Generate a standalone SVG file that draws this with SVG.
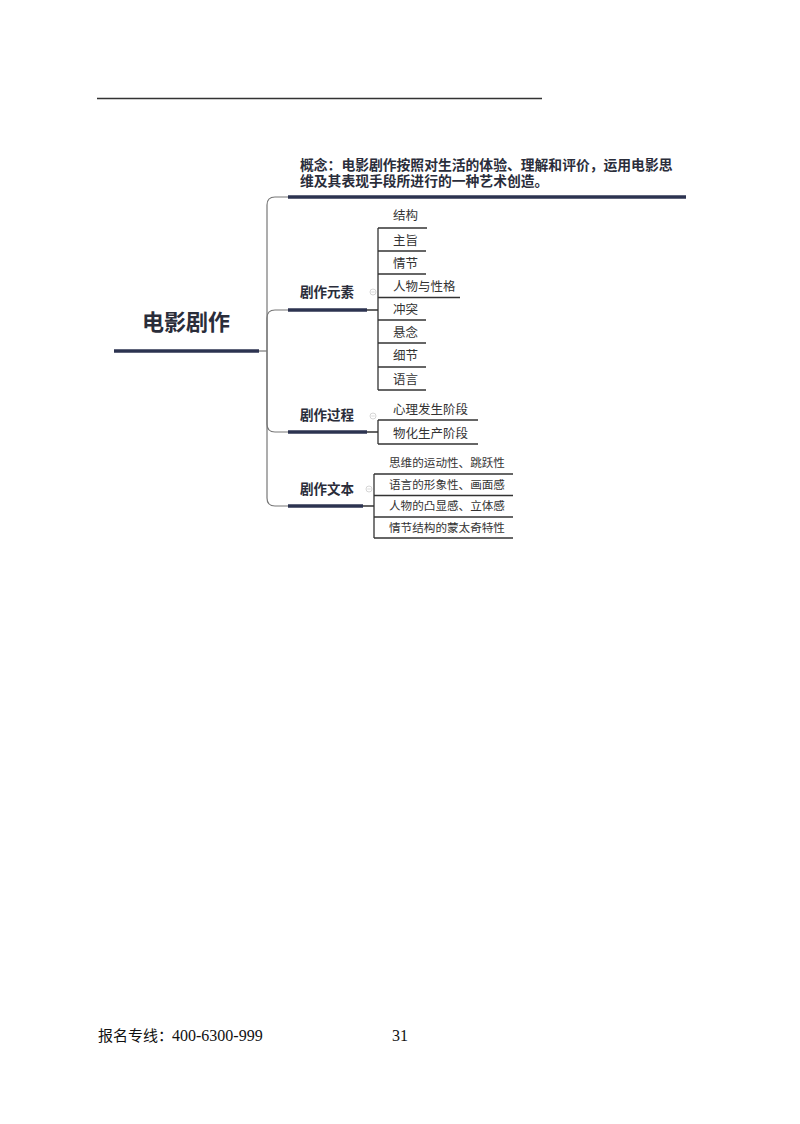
<svg xmlns="http://www.w3.org/2000/svg" width="800" height="1124" viewBox="0 0 800 1124">
<style>
.cn{font-family:"Liberation Sans","Noto Sans CJK SC",sans-serif;fill:#333}
.b{font-weight:bold;fill:#2a2d3a}
.it{font-size:12.5px}
.it3{font-size:11.6px}
.br{font-size:13.5px}
.thick{stroke:#2c3350;stroke-width:3.5;fill:none}
.ul{stroke:#333;stroke-width:1.5;fill:none}
.con{stroke:#777;stroke-width:1.2;fill:none}
.sub{stroke:#333;stroke-width:1.3;fill:none}
.tog{fill:#fff;stroke:#ccc;stroke-width:0.8}
</style>
<rect width="800" height="1124" fill="#fff"/>
<line x1="97" y1="98.5" x2="542" y2="98.5" stroke="#333" stroke-width="1.5"/>

<g id="connectors">
  <path class="con" d="M259,351 H267"/>
  <path class="con" d="M267,351 V205 Q267,197 275,197 H288"/>
  <path class="con" d="M267,351 V318 Q267,310 275,310 H288"/>
  <path class="con" d="M267,351 V424 Q267,432 275,432 H288"/>
  <path class="con" d="M267,351 V498 Q267,506 275,506 H288"/>
  <path class="sub" d="M367,310 H378 M378,228 V390"/>
  <path class="sub" d="M367,432 H378 M378,420 V444"/>
  <path class="sub" d="M363,506 H374 M374,474 V538"/>
</g>

<g id="root">
  <text class="cn b" x="186" y="330" font-size="22" text-anchor="middle">电影剧作</text>
  <line class="thick" x1="114" y1="351" x2="259" y2="351" stroke-width="4"/>
</g>

<g id="concept">
  <text class="cn b" x="300" y="170" font-size="13.8">概念：电影剧作按照对生活的体验、理解和评价，运用电影思</text>
  <text class="cn b" x="300" y="186" font-size="13.8">维及其表现手段所进行的一种艺术创造。</text>
  <line class="thick" x1="288" y1="197" x2="686" y2="197"/>
</g>

<g id="elements">
  <text class="cn b br" x="300" y="297">剧作元素</text>
  <line class="thick" x1="288" y1="310" x2="367" y2="310"/>
  <circle class="tog" cx="373" cy="292" r="3"/>
  <line x1="371.3" y1="292" x2="374.7" y2="292" stroke="#ccc" stroke-width="0.7"/>
</g>
<g id="e1"><text class="cn it" x="393" y="220">结构</text><line class="ul" x1="378" y1="228" x2="427" y2="228"/></g>
<g id="e2"><text class="cn it" x="393" y="245">主旨</text><line class="ul" x1="378" y1="251" x2="426" y2="251"/></g>
<g id="e3"><text class="cn it" x="393" y="268">情节</text><line class="ul" x1="378" y1="274" x2="426" y2="274"/></g>
<g id="e4"><text class="cn it" x="393" y="291">人物与性格</text><line class="ul" x1="378" y1="297.5" x2="460" y2="297.5"/></g>
<g id="e5"><text class="cn it" x="393" y="314">冲突</text><line class="ul" x1="378" y1="320" x2="426" y2="320"/></g>
<g id="e6"><text class="cn it" x="393" y="337">悬念</text><line class="ul" x1="378" y1="343" x2="426" y2="343"/></g>
<g id="e7"><text class="cn it" x="393" y="360">细节</text><line class="ul" x1="378" y1="367" x2="426" y2="367"/></g>
<g id="e8"><text class="cn it" x="393" y="384">语言</text><line class="ul" x1="378" y1="390" x2="426" y2="390"/></g>

<g id="process">
  <text class="cn b br" x="300" y="420">剧作过程</text>
  <line class="thick" x1="288" y1="432" x2="367" y2="432"/>
  <circle class="tog" cx="373" cy="416" r="3"/>
  <line x1="371.3" y1="416" x2="374.7" y2="416" stroke="#ccc" stroke-width="0.7"/>
</g>
<g id="p1"><text class="cn it" x="393" y="414">心理发生阶段</text><line class="ul" x1="378" y1="420" x2="478" y2="420"/></g>
<g id="p2"><text class="cn it" x="393" y="438">物化生产阶段</text><line class="ul" x1="378" y1="444" x2="478" y2="444"/></g>

<g id="text">
  <text class="cn b br" x="300" y="494">剧作文本</text>
  <line class="thick" x1="288" y1="506" x2="363" y2="506"/>
  <circle class="tog" cx="369" cy="489" r="3"/>
  <line x1="367.3" y1="489" x2="370.7" y2="489" stroke="#ccc" stroke-width="0.7"/>
</g>
<g id="t1"><text class="cn it3" x="389" y="467">思维的运动性、跳跃性</text><line class="ul" x1="374" y1="474" x2="513" y2="474"/></g>
<g id="t2"><text class="cn it3" x="389" y="489">语言的形象性、画面感</text><line class="ul" x1="374" y1="495.5" x2="513" y2="495.5"/></g>
<g id="t3"><text class="cn it3" x="389" y="510">人物的凸显感、立体感</text><line class="ul" x1="374" y1="517" x2="513" y2="517"/></g>
<g id="t4"><text class="cn it3" x="389" y="532">情节结构的蒙太奇特性</text><line class="ul" x1="374" y1="538" x2="513" y2="538"/></g>

<g id="footer">
  <text x="98" y="1041" font-size="15" fill="#111" font-family="'Liberation Serif','Noto Sans CJK SC',serif">报名专线：<tspan x="172" font-size="16">400-6300-999</tspan></text>
  <text x="392" y="1041" font-size="16" fill="#111" font-family="'Liberation Serif',serif">31</text>
</g>
</svg>
